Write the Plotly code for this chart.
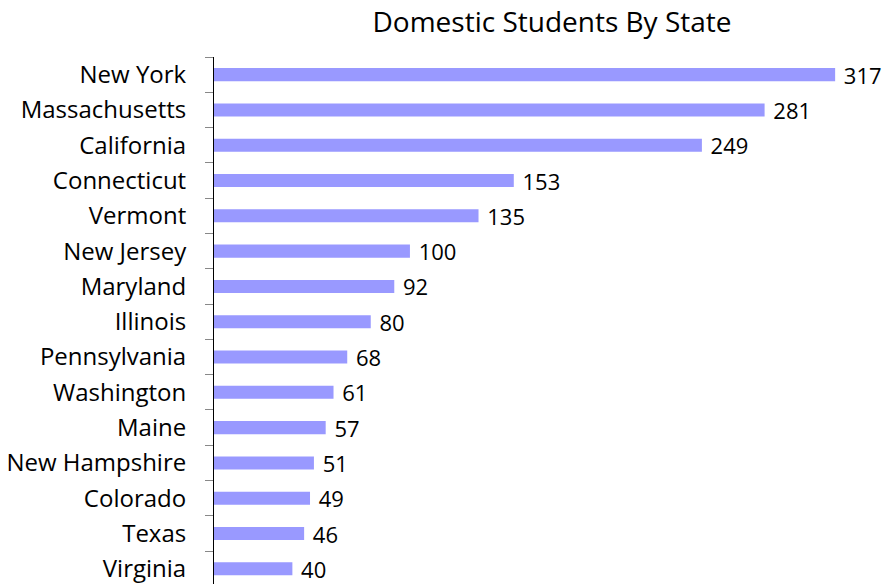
import plotly.graph_objects as go

states = ['New York', 'Massachusetts', 'California', 'Connecticut', 'Vermont',
          'New Jersey', 'Maryland', 'Illinois', 'Pennsylvania', 'Washington',
          'Maine', 'New Hampshire', 'Colorado', 'Texas', 'Virginia']
students = [317, 281, 249, 153, 135, 100, 92, 80, 68, 61, 57, 51, 49, 46, 40]

fig = go.Figure()
fig.add_trace(go.Bar(
    y=states, x=students, orientation='h',
    marker=dict(color='#9999ff', line=dict(width=0)),
    text=['\u00a0' + str(v) for v in students],
    textposition='outside', cliponaxis=False, constraintext='none',
    textfont=dict(size=22, color='black'),
))

# page body has an 8px margin, so the figure is offset by 8px
fig.update_layout(
    width=882, height=576,
    margin=dict(l=206, r=0, t=49, b=0),
    paper_bgcolor='white', plot_bgcolor='white',
    font=dict(family='Open Sans', size=24, color='black'),
    title=dict(text='Domestic Students By State', x=0.5, xref='paper', xanchor='center',
               y=0.976, yanchor='middle', font=dict(size=28)),
    bargap=0.63,
    showlegend=False,
    xaxis=dict(range=[0, 345], visible=False),
    yaxis=dict(range=[14.43, -0.5], showline=True, linecolor='black', linewidth=1,
               ticks='outside', tickson='boundaries', ticklen=8, tickcolor='#888888',
               showgrid=False, ticklabelstandoff=22, automargin=False),
)

fig.write_html('out.html')
